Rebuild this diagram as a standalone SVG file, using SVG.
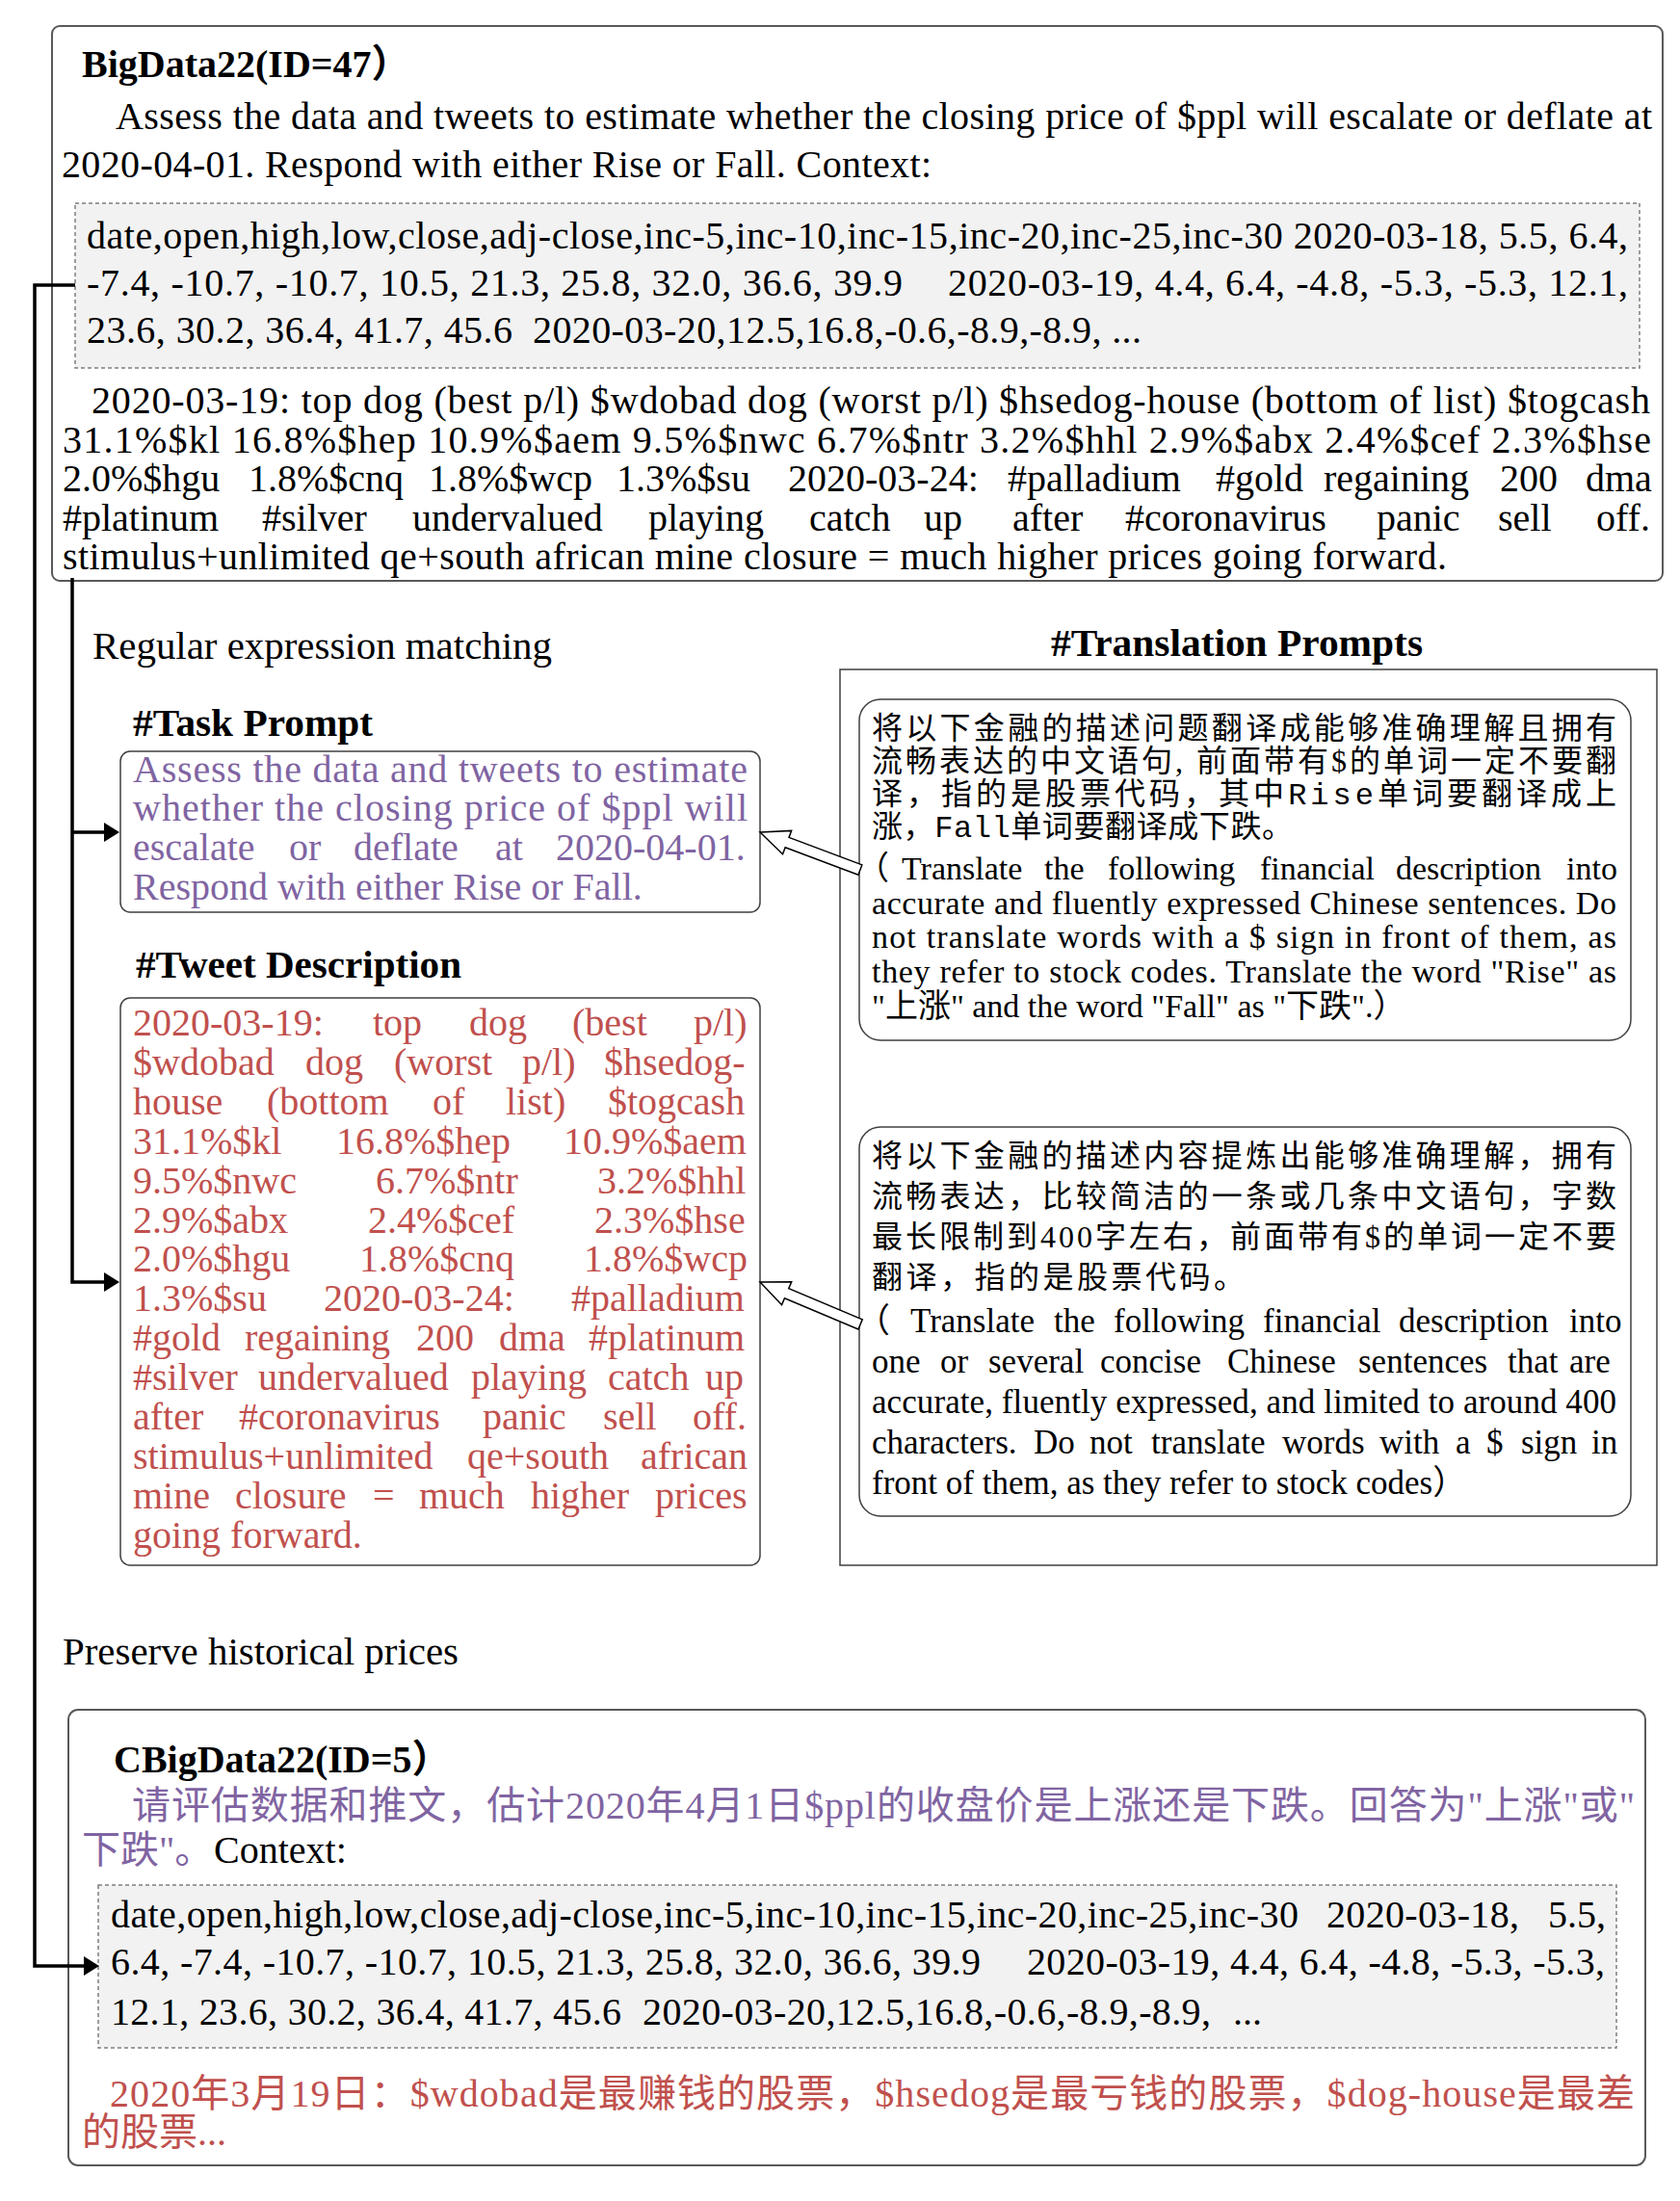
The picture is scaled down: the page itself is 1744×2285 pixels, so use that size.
<svg xmlns="http://www.w3.org/2000/svg" width="1744" height="2285" viewBox="0 0 1744 2285">
<defs>
<style>
text{font-family:"Liberation Serif","Noto Sans CJK SC",serif;font-size:40px;fill:#000}
.b{font-weight:bold}
.p{fill:#8064A2}
.r{fill:#C0504D}
.cn{font-family:"Liberation Serif","Noto Sans CJK SC",serif;font-size:32px}
.en1{font-size:34px}
.en2{font-size:35px}
.mono{font-family:"Liberation Mono","Noto Sans CJK SC",monospace}
.box{fill:#fff;stroke:#595959;stroke-width:2}
.sbox{fill:#fff;stroke:#404040;stroke-width:1.5}
.dbox{fill:#f2f2f2;stroke:#7f7f7f;stroke-width:1.5;stroke-dasharray:4 3}
.conn{fill:none;stroke:#000;stroke-width:3.5}
.head{fill:#000}
.hollow{fill:#fff;stroke:#000;stroke-width:1.5;stroke-linejoin:miter}
</style>
</defs>
<rect width="1744" height="2285" fill="#fff"/>

<g id="bigdata22">
<rect class="box" x="54" y="27" width="1672" height="576" rx="8"/>
<text class="b" x="85" y="80">BigData22(ID=47）</text>
<text x="120" y="134" textLength="1595" lengthAdjust="spacing">Assess the data and tweets to estimate whether the closing price of $ppl will escalate or deflate at</text>
<text x="64" y="184" textLength="903" lengthAdjust="spacing">2020-04-01. Respond with either Rise or Fall. Context:</text>
<rect class="dbox" x="78" y="211" width="1624" height="171"/>
<text x="90" y="258" textLength="1600" lengthAdjust="spacing">date,open,high,low,close,adj-close,inc-5,inc-10,inc-15,inc-20,inc-25,inc-30 2020-03-18, 5.5, 6.4,</text>
<text x="90" y="307" textLength="847" lengthAdjust="spacing">-7.4, -10.7, -10.7, 10.5, 21.3, 25.8, 32.0, 36.6, 39.9</text>
<text x="984" y="307" textLength="706" lengthAdjust="spacing">2020-03-19, 4.4, 6.4, -4.8, -5.3, -5.3, 12.1,</text>
<text x="90" y="356" textLength="442" lengthAdjust="spacing">23.6, 30.2, 36.4, 41.7, 45.6</text>
<text x="553" y="356" textLength="632" lengthAdjust="spacing">2020-03-20,12.5,16.8,-0.6,-8.9,-8.9, ...</text>
<text x="95" y="429" textLength="1618" lengthAdjust="spacing">2020-03-19: top dog (best p/l) $wdobad dog (worst p/l) $hsedog-house (bottom of list) $togcash</text>
<text x="65" y="470" textLength="1649" lengthAdjust="spacing">31.1%$kl 16.8%$hep 10.9%$aem 9.5%$nwc 6.7%$ntr 3.2%$hhl 2.9%$abx 2.4%$cef 2.3%$hse</text>
<text y="510"><tspan x="65">2.0%$hgu </tspan><tspan x="258">1.8%$cnq </tspan><tspan x="445">1.8%$wcp </tspan><tspan x="640">1.3%$su </tspan><tspan x="818">2020-03-24: </tspan><tspan x="1046">#palladium </tspan><tspan x="1262">#gold </tspan><tspan x="1374">regaining </tspan><tspan x="1557">200 </tspan><tspan x="1646">dma</tspan></text>
<text y="551"><tspan x="65">#platinum </tspan><tspan x="272">#silver </tspan><tspan x="428">undervalued </tspan><tspan x="673">playing </tspan><tspan x="840">catch </tspan><tspan x="959">up </tspan><tspan x="1051">after </tspan><tspan x="1168">#coronavirus </tspan><tspan x="1429">panic </tspan><tspan x="1555">sell </tspan><tspan x="1657">off.</tspan></text>
<text x="65" y="591" textLength="1437" lengthAdjust="spacing">stimulus+unlimited qe+south african mine closure = much higher prices going forward.</text>
</g>

<g id="label-regex">
<text x="96" y="684" textLength="477" lengthAdjust="spacingAndGlyphs">Regular expression matching</text>
</g>

<g id="task-prompt">
<text class="b" x="138" y="764" textLength="249" lengthAdjust="spacingAndGlyphs">#Task Prompt</text>
<rect class="sbox" x="125" y="780" width="664" height="167" rx="10"/>
<text class="p" x="138" y="812" textLength="638" lengthAdjust="spacing">Assess the data and tweets to estimate</text>
<text class="p" x="138" y="852" textLength="638" lengthAdjust="spacing">whether the closing price of $ppl will</text>
<text class="p" y="893"><tspan x="138">escalate </tspan><tspan x="300">or </tspan><tspan x="367">deflate </tspan><tspan x="514">at </tspan><tspan x="577">2020-04-01.</tspan></text>
<text class="p" x="138" y="934">Respond with either Rise or Fall.</text>
</g>

<g id="tweet-description">
<text class="b" x="141" y="1015" textLength="338" lengthAdjust="spacingAndGlyphs">#Tweet Description</text>
<rect class="sbox" x="125" y="1036" width="664" height="589" rx="10"/>
<text class="r" y="1075"><tspan x="138">2020-03-19: </tspan><tspan x="387">top </tspan><tspan x="487">dog </tspan><tspan x="594">(best </tspan><tspan x="720">p/l)</tspan></text>
<text class="r" y="1116"><tspan x="138">$wdobad </tspan><tspan x="317">dog </tspan><tspan x="409">(worst </tspan><tspan x="542">p/l) </tspan><tspan x="627">$hsedog-</tspan></text>
<text class="r" y="1157"><tspan x="138">house </tspan><tspan x="277">(bottom </tspan><tspan x="449">of </tspan><tspan x="525">list) </tspan><tspan x="631">$togcash</tspan></text>
<text class="r" y="1198"><tspan x="138">31.1%$kl </tspan><tspan x="349">16.8%$hep </tspan><tspan x="585">10.9%$aem</tspan></text>
<text class="r" y="1239"><tspan x="138">9.5%$nwc </tspan><tspan x="390">6.7%$ntr </tspan><tspan x="620">3.2%$hhl</tspan></text>
<text class="r" y="1280"><tspan x="138">2.9%$abx </tspan><tspan x="382">2.4%$cef </tspan><tspan x="617">2.3%$hse</tspan></text>
<text class="r" y="1320"><tspan x="138">2.0%$hgu </tspan><tspan x="373">1.8%$cnq </tspan><tspan x="606">1.8%$wcp</tspan></text>
<text class="r" y="1361"><tspan x="138">1.3%$su </tspan><tspan x="336">2020-03-24: </tspan><tspan x="593">#palladium</tspan></text>
<text class="r" y="1402"><tspan x="138">#gold </tspan><tspan x="254">regaining </tspan><tspan x="432">200 </tspan><tspan x="518">dma </tspan><tspan x="611">#platinum</tspan></text>
<text class="r" y="1443"><tspan x="138">#silver </tspan><tspan x="268">undervalued </tspan><tspan x="489">playing </tspan><tspan x="631">catch </tspan><tspan x="732">up</tspan></text>
<text class="r" y="1484"><tspan x="138">after </tspan><tspan x="248">#coronavirus </tspan><tspan x="501">panic </tspan><tspan x="626">sell </tspan><tspan x="719">off.</tspan></text>
<text class="r" y="1525"><tspan x="138">stimulus+unlimited </tspan><tspan x="485">qe+south </tspan><tspan x="665">african</tspan></text>
<text class="r" y="1566"><tspan x="138">mine </tspan><tspan x="244">closure </tspan><tspan x="387">= </tspan><tspan x="435">much </tspan><tspan x="551">higher </tspan><tspan x="680">prices</tspan></text>
<text class="r" x="138" y="1607">going forward.</text>
</g>

<g id="translation-prompts">
<text class="b" x="1091" y="681" textLength="386" lengthAdjust="spacingAndGlyphs">#Translation Prompts</text>
<rect x="872" y="695" width="848" height="930" fill="#fff" stroke="#404040" stroke-width="1.5"/>
</g>

<g id="translation-prompt-1">
<rect class="sbox" x="892" y="726" width="801" height="354" rx="22"/>
<text class="cn" x="905" y="767" textLength="773" lengthAdjust="spacing">将以下金融的描述问题翻译成能够准确理解且拥有</text>
<text class="cn" x="905" y="801" textLength="773" lengthAdjust="spacing">流畅表达的中文语句, 前面带有$的单词一定不要翻</text>
<text class="cn" x="905" y="835" textLength="773" lengthAdjust="spacing">译，指的是股票代码，其中<tspan class="mono">Rise</tspan>单词要翻译成上</text>
<text class="cn" x="905" y="869" textLength="437" lengthAdjust="spacing">涨，<tspan class="mono">Fall</tspan>单词要翻译成下跌。</text>
<text class="en1" y="913"><tspan x="889">（</tspan><tspan x="936">Translate </tspan><tspan x="1084">the </tspan><tspan x="1150">following </tspan><tspan x="1308">financial </tspan><tspan x="1449">description </tspan><tspan x="1626">into</tspan></text>
<text class="en1" x="905" y="949" textLength="773" lengthAdjust="spacing">accurate and fluently expressed Chinese sentences. Do</text>
<text class="en1" x="905" y="984" textLength="773" lengthAdjust="spacing">not translate words with a $ sign in front of them, as</text>
<text class="en1" x="905" y="1020" textLength="773" lengthAdjust="spacing">they refer to stock codes. Translate the word "Rise" as</text>
<text class="en1" x="905" y="1056">"上涨" and the word "Fall" as "下跌".）</text>
</g>

<g id="translation-prompt-2">
<rect class="sbox" x="892" y="1170" width="801" height="404" rx="22"/>
<text class="cn" x="905" y="1211" textLength="773" lengthAdjust="spacing">将以下金融的描述内容提炼出能够准确理解，拥有</text>
<text class="cn" x="905" y="1253" textLength="773" lengthAdjust="spacing">流畅表达，比较简洁的一条或几条中文语句，字数</text>
<text class="cn" x="905" y="1295" textLength="773" lengthAdjust="spacing">最长限制到400字左右，前面带有$的单词一定不要</text>
<text class="cn" x="905" y="1337" textLength="387" lengthAdjust="spacing">翻译，指的是股票代码。</text>
<text class="en2" y="1383"><tspan x="889">（</tspan><tspan x="945">Translate </tspan><tspan x="1094">the </tspan><tspan x="1156">following </tspan><tspan x="1311">financial </tspan><tspan x="1452">description </tspan><tspan x="1629">into</tspan></text>
<text class="en2" y="1425"><tspan x="905">one </tspan><tspan x="976">or </tspan><tspan x="1026">several </tspan><tspan x="1142">concise </tspan><tspan x="1274">Chinese </tspan><tspan x="1410">sentences </tspan><tspan x="1565">that </tspan><tspan x="1629">are</tspan></text>
<text class="en2" x="905" y="1467" textLength="773" lengthAdjust="spacing">accurate, fluently expressed, and limited to around 400</text>
<text class="en2" y="1509"><tspan x="905">characters. </tspan><tspan x="1073">Do </tspan><tspan x="1131">not </tspan><tspan x="1195">translate </tspan><tspan x="1331">words </tspan><tspan x="1432">with </tspan><tspan x="1511">a </tspan><tspan x="1543">$ </tspan><tspan x="1579">sign </tspan><tspan x="1652">in</tspan></text>
<text class="en2" x="905" y="1551">front of them, as they refer to stock codes）</text>
</g>

<g id="label-preserve">
<text x="65" y="1728" textLength="411" lengthAdjust="spacingAndGlyphs">Preserve historical prices</text>
</g>

<g id="cbigdata22">
<rect class="box" x="71" y="1775" width="1637" height="473" rx="10"/>
<text class="b" x="118" y="1840">CBigData22(ID=5）</text>
<text class="p" x="137" y="1888" textLength="1560" lengthAdjust="spacing">请评估数据和推文，估计2020年4月1日$ppl的收盘价是上涨还是下跌。回答为"上涨"或"</text>
<text x="85" y="1934"><tspan class="p">下跌"。</tspan><tspan x="222">Context:</tspan></text>
<rect class="dbox" x="102" y="1957" width="1576" height="169"/>
<text x="115" y="2001" textLength="1233" lengthAdjust="spacing">date,open,high,low,close,adj-close,inc-5,inc-10,inc-15,inc-20,inc-25,inc-30</text>
<text x="1377" y="2001" textLength="200" lengthAdjust="spacing">2020-03-18,</text>
<text x="1607" y="2001">5.5,</text>
<text x="115" y="2050" textLength="903" lengthAdjust="spacing">6.4, -7.4, -10.7, -10.7, 10.5, 21.3, 25.8, 32.0, 36.6, 39.9</text>
<text x="1066" y="2050" textLength="600" lengthAdjust="spacing">2020-03-19, 4.4, 6.4, -4.8, -5.3, -5.3,</text>
<text x="115" y="2102" textLength="530" lengthAdjust="spacing">12.1, 23.6, 30.2, 36.4, 41.7, 45.6</text>
<text x="667" y="2102" textLength="590" lengthAdjust="spacing">2020-03-20,12.5,16.8,-0.6,-8.9,-8.9,</text>
<text x="1280" y="2102">...</text>
<text class="r" x="114" y="2187" textLength="1583" lengthAdjust="spacing">2020年3月19日：$wdobad是最赚钱的股票，$hsedog是最亏钱的股票，$dog-house是最差</text>
<text class="r" x="85" y="2227">的股票...</text>
</g>

<g id="connectors">
<path class="conn" d="M78,296 H36 V2041 H90"/>
<polygon class="head" points="103,2041 87,2031 87,2051"/>
<path class="conn" d="M75,600 V1331 H112 M75,864 H112"/>
<polygon class="head" points="124,864 108,854 108,874"/>
<polygon class="head" points="124,1331 108,1321 108,1341"/>
<polygon class="hollow" transform="translate(789,864) rotate(20.6)" points="0,0 30,-13 30,-5.5 111,-5.5 111,5.5 30,5.5 30,13"/>
<polygon class="hollow" transform="translate(789,1331) rotate(22.9)" points="0,0 30,-13 30,-5.5 113,-5.5 113,5.5 30,5.5 30,13"/>
</g>
</svg>
